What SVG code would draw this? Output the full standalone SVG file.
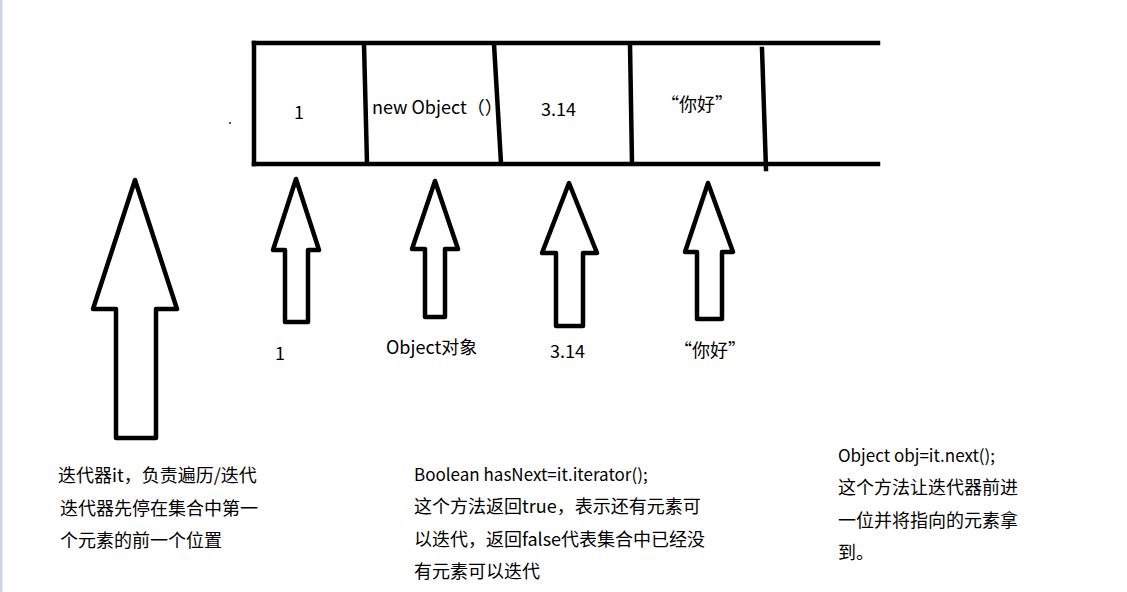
<svg xmlns="http://www.w3.org/2000/svg" width="1127" height="592" viewBox="0 0 1127 592">
<style>
.ln{stroke:#000;stroke-width:4.5;fill:none;stroke-linecap:square}
.ar{stroke:#000;stroke-width:4.5;fill:#fff;stroke-linejoin:round}
.t{font-family:"Noto Sans CJK SC","Noto Sans",sans-serif;font-size:18px;fill:#000}
.l{font-family:"Noto Sans CJK SC","Noto Sans",sans-serif;font-size:17px;fill:#000}
.c{font-family:"Noto Sans CJK SC","Noto Sans",sans-serif;font-size:18px;fill:#000}
</style>
<rect x="0" y="0" width="1127" height="592" fill="#fff"/>
<rect x="0" y="0" width="2.5" height="592" fill="#cbd6e8"/>
<rect x="229" y="122" width="2" height="2" fill="#555"/>
<g id="array">
<line class="ln" x1="254" y1="43" x2="878" y2="43"/>
<line class="ln" x1="254" y1="164" x2="878" y2="164"/>
<line class="ln" x1="254" y1="43" x2="254" y2="164"/>
<line class="ln" x1="364" y1="44" x2="367" y2="163"/>
<line class="ln" x1="494" y1="44" x2="501" y2="163"/>
<line class="ln" x1="630" y1="44" x2="632" y2="163"/>
<line class="ln" x1="762" y1="49" x2="766" y2="169"/>
</g>
<g id="cell-1"><text class="c" x="294" y="119">1</text></g>
<g id="cell-2"><text class="c" x="372" y="114">new Object（）</text></g>
<g id="cell-3"><text class="c" x="541" y="116">3.14</text></g>
<g id="cell-4"><text class="c" x="661" y="111">“你好”</text></g>
<g id="connectors">
<polygon id="arrow-iterator" class="ar" points="135,180 177,309 156,309 156,438 116,438 116,309 93,309"/>
<polygon id="arrow-1" class="ar" points="296,179 319,250 308,250 308,322 285,322 285,250 273,250"/>
<polygon id="arrow-2" class="ar" points="435,181 458,249 445,249 445,317 425,317 425,249 412,249"/>
<polygon id="arrow-3" class="ar" points="569,183 597,253 583,253 583,326 556,326 556,253 542,253"/>
<polygon id="arrow-4" class="ar" points="708,183 733,252 722,252 722,319 697,319 697,252 685,252"/>
</g>
<g id="label-1"><text class="c" x="275" y="360">1</text></g>
<g id="label-2"><text class="c" x="386" y="354">Object对象</text></g>
<g id="label-3"><text class="c" x="550" y="358">3.14</text></g>
<g id="label-4"><text class="c" x="674" y="357">“你好”</text></g>
<g id="note-iterator">
<text class="t" x="58" y="482">迭代器it，负责遍历/迭代</text>
<text class="t" x="60" y="515">迭代器先停在集合中第一</text>
<text class="t" x="60" y="547">个元素的前一个位置</text>
</g>
<g id="note-hasnext">
<text class="l" x="414" y="481">Boolean hasNext=it.iterator();</text>
<text class="t" x="414" y="513">这个方法返回true，表示还有元素可</text>
<text class="t" x="414" y="546">以迭代，返回false代表集合中已经没</text>
<text class="t" x="414" y="578">有元素可以迭代</text>
</g>
<g id="note-next">
<text class="l" x="838" y="462">Object obj=it.next();</text>
<text class="t" x="838" y="494">这个方法让迭代器前进</text>
<text class="t" x="838" y="527">一位并将指向的元素拿</text>
<text class="t" x="838" y="559">到。</text>
</g>
</svg>
